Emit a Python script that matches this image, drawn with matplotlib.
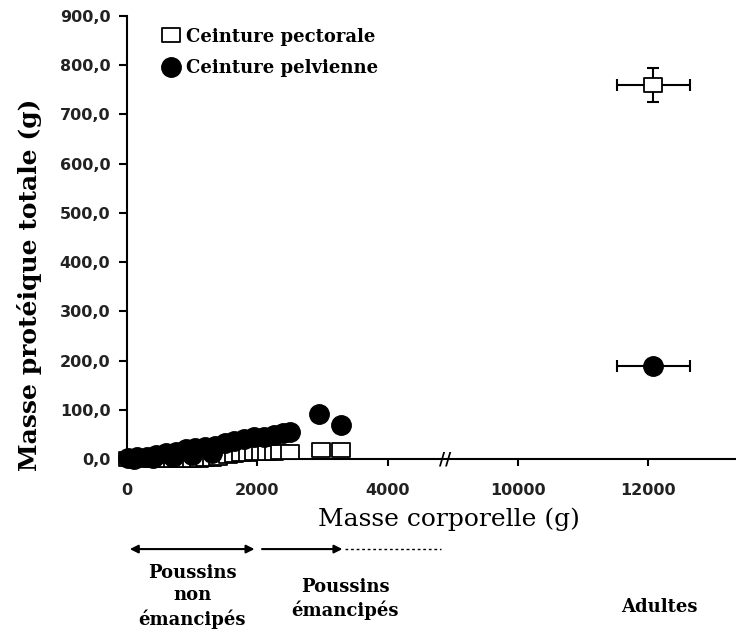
import numpy as np
import matplotlib
matplotlib.use('Agg')
import matplotlib.pyplot as plt
from matplotlib.path import Path

# data (body mass g, total protein mass g)
pect_x = [20, 100, 200, 300, 400, 500, 600, 700, 800, 900, 1000, 1100, 1200, 1300,
          1400, 1550, 1650, 1750, 1850, 1950, 2050, 2150, 2250, 2350, 2500, 2980, 3280]
pect_y = [0, 0, 0, -1, -1, -1, -2, -2, -2, -2, -1, -1, 0, 1, 2, 6, 8, 10, 11, 12, 12, 13,
          13, 14, 14, 18, 18]
pelv_x = [20, 100, 150, 300, 400, 450, 600, 700, 750, 900, 1000, 1050, 1200, 1300, 1350,
          1500, 1650, 1800, 1950, 2100, 2250, 2400, 2500, 2950, 3280]
pelv_y = [2, 0, 4, 5, 2, 8, 12, 4, 15, 20, 8, 23, 25, 12, 27, 33, 37, 41, 44, 45, 48,
          52, 55, 92, 69]

adult_x = [12080]
adult_xerr = [560]
adult_pect_y = [760]
adult_pect_yerr = [35]
adult_pelv_y = [189]
adult_pelv_yerr = [6]

xticks = [0, 2000, 4000, 10000, 12000]
yticks = [0, 100, 200, 300, 400, 500, 600, 700, 800, 900]

gap = 4000      # removed part of the axis
break_at = 4880


def tx(v):
    v = np.asarray(v, dtype=float)
    return np.where(v < 6000, v, v - gap)


rect = Path([(-1.25, -1), (1.25, -1), (1.25, 1), (-1.25, 1), (-1.25, -1)],
            [Path.MOVETO, Path.LINETO, Path.LINETO, Path.LINETO, Path.CLOSEPOLY])

fig = plt.figure(figsize=(7.36, 6.35), dpi=100)
ax = fig.add_axes([0.1726, 0.277, 0.8274, 0.698])

ax.plot(tx(pect_x), pect_y, marker=rect, linestyle='none', markerfacecolor='white',
        markeredgecolor='black', markeredgewidth=1.3, markersize=13, clip_on=False,
        zorder=3, label='Ceinture pectorale')
ax.plot(tx(pelv_x), pelv_y, 'o', color='black', markersize=14, clip_on=False,
        zorder=4, label='Ceinture pelvienne')

ax.errorbar(tx(adult_x), adult_pect_y, xerr=adult_xerr, yerr=adult_pect_yerr,
            fmt='none', ecolor='black', elinewidth=1.5, capsize=4, capthick=1.5, zorder=2)
ax.plot(tx(adult_x), adult_pect_y, marker=rect, linestyle='none', markerfacecolor='white',
        markeredgecolor='black', markeredgewidth=1.3, markersize=13, zorder=4)
ax.errorbar(tx(adult_x), adult_pelv_y, xerr=adult_xerr, yerr=adult_pelv_yerr,
            fmt='none', ecolor='black', elinewidth=1.5, capsize=4, capthick=1.5, zorder=2)
ax.plot(tx(adult_x), adult_pelv_y, 'o', color='black', markersize=14, zorder=4)

ax.set_xlim(0, 9350)
ax.set_ylim(0, 900)
ax.set_xticks(tx(xticks))
ax.set_xticklabels([str(v) for v in xticks])
ax.set_yticks(yticks)
ax.set_yticklabels([('%.1f' % v).replace('.', ',') for v in yticks])
for lab in ax.get_xticklabels() + ax.get_yticklabels():
    lab.set_fontfamily('DejaVu Sans')
    lab.set_fontweight('bold')
    lab.set_fontsize(11.5)
    lab.set_color('#222222')

ax.spines['top'].set_visible(False)
ax.spines['right'].set_visible(False)
ax.spines['left'].set_linewidth(1.5)
ax.spines['bottom'].set_linewidth(1.5)
ax.tick_params(axis='y', direction='out', length=6, width=1.5, pad=6)
ax.tick_params(axis='x', direction='out', length=5, width=1.5, pad=12)

# axis break mark
ax.text(tx(break_at), 0, '//', transform=ax.get_xaxis_transform(), ha='center',
        va='center', fontsize=12, fontweight='bold', family='DejaVu Sans')

ax.set_xlabel('Masse corporelle (g)', family='DejaVu Serif', fontsize=18)
ax.xaxis.set_label_coords(0.528, -0.108)
ax.set_ylabel('Masse protéique totale (g)', family='DejaVu Serif', fontsize=18,
              fontweight='bold')
ax.yaxis.set_label_coords(-0.140, 0.393)

ax.legend(loc='upper left', bbox_to_anchor=(0.03, 1.01), frameon=False,
          prop={'family': 'DejaVu Serif', 'weight': 'bold', 'size': 13},
          handlelength=1.0, handletextpad=0.35, labelspacing=0.75)

# age groups below the axis
xt = ax.get_xaxis_transform()
ax.annotate('', xy=(0, -0.203), xytext=(2000, -0.203), xycoords=xt, textcoords=xt,
            arrowprops=dict(arrowstyle='<|-|>', color='black', lw=1.5, mutation_scale=12),
            annotation_clip=False)
ax.annotate('', xy=(2030, -0.203), xytext=(3350, -0.203), xycoords=xt, textcoords=xt,
            arrowprops=dict(arrowstyle='<|-', color='black', lw=1.5, mutation_scale=12),
            annotation_clip=False)
ax.plot([3350, 4820], [-0.203, -0.203], transform=xt, color='black', lw=1,
        linestyle=(0, (2, 2)), clip_on=False)

ax.text(1000, -0.31, 'Poussins\nnon\némancipés', transform=xt, ha='center', va='center',
        family='DejaVu Serif', fontweight='bold', fontsize=13, linespacing=1.35)
ax.text(3350, -0.316, 'Poussins\némancipés', transform=xt, ha='center', va='center',
        family='DejaVu Serif', fontweight='bold', fontsize=13, linespacing=1.25)
ax.text(tx(12170), -0.333, 'Adultes', transform=xt, ha='center', va='center',
        family='DejaVu Serif', fontweight='bold', fontsize=13)

fig.savefig('out.png', dpi=100)
